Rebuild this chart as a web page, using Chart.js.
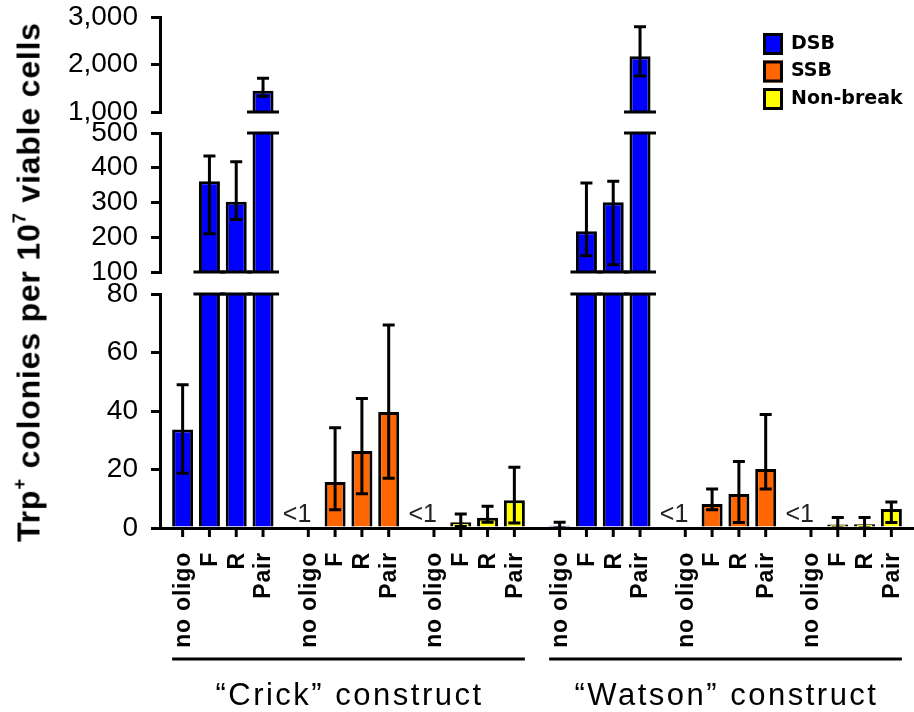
<!DOCTYPE html>
<html>
<head>
<meta charset="utf-8">
<script src="https://cdn.jsdelivr.net/npm/chart.js@4.4.1/dist/chart.umd.min.js"></script>
<style>
  html, body { margin: 0; padding: 0; background: #fff; }
  #figure { position: relative; width: 914px; height: 712px; overflow: hidden; background: #fff; }
  #figure canvas { position: absolute; left: 0; }
  #yTitle {
    position: absolute; left: 29px; top: 282px;
    transform: translate(-50%, -50%) rotate(-90deg);
    white-space: nowrap; color: #000;
    font: bold 32px "Liberation Sans", Arial, sans-serif; letter-spacing: 0.8px;
  }
  #yTitle sup { font-size: 58%; vertical-align: 0.75em; line-height: 0; }
</style>
</head>
<body>
<div id="figure">
  <canvas id="topChart" width="914" height="149" style="top:-10px"></canvas>
  <canvas id="midChart" width="914" height="193" style="top:106px"></canvas>
  <canvas id="lowChart" width="914" height="445" style="top:267px"></canvas>
  <div id="yTitle">Trp<sup>+</sup> colonies per 10<sup>7</sup> viable cells</div>
</div>
<script>
const constructs = ['“Crick” construct', '“Watson” construct'];
const breakTypes = ['DSB', 'SSB', 'Non-break'];
const breakColors = ['#0000ff', '#ff6600', '#ffff00'];
const oligos = ['no oligo', 'F', 'R', 'Pair'];

// bar groups: Crick DSB, SSB, Non-break, then Watson DSB, SSB, Non-break
const groupLabels = ['Crick DSB', 'Crick SSB', 'Crick Non-break', 'Watson DSB', 'Watson SSB', 'Watson Non-break'];
const groupBreak = [0, 1, 2, 0, 1, 2];

// mean values per group, one array per oligo (null = below 1, shown as "<1")
const noOligoMean = [33.7, null, null, 0.8, null, null];
const fMean = [361, 15.7, 2.0, 217, 8.2, 1.2];
const rMean = [302, 26.3, 3.5, 301, 11.6, 1.3];
const pairMean = [1449, 39.7, 9.5, 2173, 20.2, 6.5];

// error bar lengths above / below the mean
const noOligoErrUp = [15.3, null, null, 1.2, null, null];
const noOligoErrDown = [15.0, null, null, 0.8, null, null];
const fErrUp = [73, 18.6, 2.8, 139, 5.1, 2.4];
const fErrDown = [151, 9.5, 1.5, 70, 2.0, 1.2];
const rErrUp = [115, 18.0, 3.9, 60, 11.1, 2.3];
const rErrDown = [51, 14.6, 1.5, 180, 9.7, 1.3];
const pairErrUp = [263, 29.7, 11.3, 621, 18.6, 2.4];
const pairErrDown = [118, 22.7, 7.8, 414, 6.9, 4.6];

// the three pieces of the broken y axis
const topTicks = [1000, 2000, 3000];
const midTicks = [100, 200, 300, 400, 500];
const lowTicks = [0, 20, 40, 60, 80];

const means = [noOligoMean, fMean, rMean, pairMean];
const errUps = [noOligoErrUp, fErrUp, rErrUp, pairErrUp];
const errDowns = [noOligoErrDown, fErrDown, rErrDown, pairErrDown];

function makeDatasets() {
    return oligos.map((name, k) => ({
        label: name,
        data: means[k],
        errUp: errUps[k],
        errDown: errDowns[k],
        backgroundColor: groupBreak.map(b => breakColors[b]),
        borderColor: '#000',
        borderWidth: 3,
        borderSkipped: 'start',
        categoryPercentage: 0.853,
        barPercentage: 0.784
    }));
}

// error bars, clipped to the piece of axis they sit in
const errorBarPlugin = {
    id: 'errorBars',
    afterDatasetsDraw(chart) {
        const { ctx, chartArea: a } = chart;
        const y = chart.scales.y;
        ctx.save();
        ctx.beginPath();
        ctx.rect(a.left, a.top - 1, a.right - a.left, a.bottom - a.top + 2);
        ctx.clip();
        ctx.strokeStyle = '#000';
        ctx.lineWidth = 3;
        chart.data.datasets.forEach((ds, i) => {
            chart.getDatasetMeta(i).data.forEach((bar, j) => {
                const v = ds.data[j];
                if (v == null) return;
                const hi = y.getPixelForValue(v + ds.errUp[j]);
                const lo = y.getPixelForValue(v - ds.errDown[j]);
                ctx.beginPath();
                ctx.moveTo(bar.x, hi); ctx.lineTo(bar.x, lo);
                ctx.moveTo(bar.x - 6, hi); ctx.lineTo(bar.x + 6, hi);
                ctx.moveTo(bar.x - 6, lo); ctx.lineTo(bar.x + 6, lo);
                ctx.stroke();
            });
        });
        ctx.restore();
    }
};

// horizontal marks where a bar runs through an axis break
const breakLinePlugin = {
    id: 'breakLines',
    afterDatasetsDraw(chart) {
        const { ctx, chartArea: a } = chart;
        const y = chart.scales.y;
        ctx.save();
        ctx.strokeStyle = '#000';
        ctx.lineWidth = 3;
        chart.data.datasets.forEach((ds, i) => {
            chart.getDatasetMeta(i).data.forEach((bar, j) => {
                const v = ds.data[j];
                if (v == null) return;
                const x0 = bar.x - bar.width / 2 - 5.5;
                const x1 = bar.x + bar.width / 2 + 5.5;
                ctx.beginPath();
                if (v > y.max) { ctx.moveTo(x0, a.top); ctx.lineTo(x1, a.top); }
                if (y.min > 0 && v > y.min) { ctx.moveTo(x0, a.bottom); ctx.lineTo(x1, a.bottom); }
                ctx.stroke();
            });
        });
        ctx.restore();
    }
};

// per-bar ticks and labels, "<1" notes, construct brackets
const lowAxisPlugin = {
    id: 'lowAxis',
    afterDraw(chart) {
        const { ctx } = chart;
        const base = chart.scales.y.getPixelForValue(0);
        ctx.save();
        ctx.fillStyle = '#000';
        ctx.strokeStyle = '#000';
        ctx.lineWidth = 3;
        chart.data.datasets.forEach((ds, i) => {
            chart.getDatasetMeta(i).data.forEach((bar, j) => {
                ctx.beginPath();
                ctx.moveTo(bar.x, base);
                ctx.lineTo(bar.x, base + 9);
                ctx.stroke();

                ctx.save();
                ctx.translate(bar.x + 1, base + 24);
                ctx.rotate(-Math.PI / 2);
                ctx.font = 'bold 23px "Liberation Sans", Arial, sans-serif';
                ctx.letterSpacing = '0.8px';
                ctx.textAlign = 'right';
                ctx.textBaseline = 'middle';
                ctx.fillText(ds.label, 0, 0);
                ctx.restore();

                if (ds.data[j] == null) {
                    ctx.save();
                    ctx.font = '25px "Liberation Sans", Arial, sans-serif';
                    ctx.fillStyle = '#222';
                    ctx.textAlign = 'right';
                    ctx.textBaseline = 'alphabetic';
                    ctx.fillText('<1', bar.x + 3, base - 6);
                    ctx.restore();
                }
            });
        });

        const perConstruct = breakTypes.length;
        constructs.forEach((name, c) => {
            const first = chart.getDatasetMeta(0).data[c * perConstruct];
            const last = chart.getDatasetMeta(oligos.length - 1).data[c * perConstruct + perConstruct - 1];
            const x0 = first.x - first.width / 2;
            const x1 = last.x + last.width / 2;
            ctx.beginPath();
            ctx.moveTo(x0, base + 131);
            ctx.lineTo(x1, base + 131);
            ctx.stroke();
            ctx.save();
            ctx.font = '31px "Liberation Sans", Arial, sans-serif';
            ctx.letterSpacing = '2.5px';
            ctx.textAlign = 'center';
            ctx.textBaseline = 'alphabetic';
            ctx.fillText(name, (x0 + x1) / 2 + 1, base + 177);
            ctx.restore();
        });
        ctx.restore();
    }
};

// break-type legend in the upper right
const legendPlugin = {
    id: 'breakLegend',
    afterDraw(chart) {
        const { ctx, chartArea: a } = chart;
        ctx.save();
        breakTypes.forEach((name, k) => {
            const bx = a.right - 151;
            const by = a.top + 16 + k * 27.5;
            ctx.fillStyle = breakColors[k];
            ctx.fillRect(bx, by, 20, 22);
            ctx.strokeStyle = '#000';
            ctx.lineWidth = 3;
            ctx.strokeRect(bx + 1.5, by + 1.5, 17, 19);
            ctx.fillStyle = '#000';
            ctx.font = 'bold 19px "DejaVu Sans", sans-serif';
            ctx.textAlign = 'left';
            ctx.textBaseline = 'middle';
            ctx.fillText(name, bx + 28, by + 11);
        });
        ctx.restore();
    }
};

function makeChart(id, ticks, padTop, padBottom, isLow, extraPlugins) {
    const ctx = document.getElementById(id).getContext('2d');
    return new Chart(ctx, {
        type: 'bar',
        data: {
            labels: groupLabels,
            datasets: makeDatasets()
        },
        options: {
            responsive: false,
            animation: false,
            layout: { padding: { top: padTop, bottom: padBottom, left: 0, right: 0 } },
            plugins: {
                legend: { display: false },
                tooltip: { enabled: false }
            },
            scales: {
                x: {
                    display: isLow,
                    offset: true,
                    grid: { drawOnChartArea: false, drawTicks: false },
                    ticks: { display: false },
                    border: { color: '#000', width: 3 }
                },
                y: {
                    min: ticks[0],
                    max: ticks[ticks.length - 1],
                    afterFit(scale) { scale.width = 160; },
                    border: { color: '#000', width: 3 },
                    grid: { drawOnChartArea: false, color: '#000', lineWidth: 3, tickLength: 9 },
                    ticks: {
                        stepSize: ticks[1] - ticks[0],
                        autoSkip: false,
                        color: '#000',
                        padding: 13,
                        font: { family: '"Liberation Sans", Arial, sans-serif', size: 28, lineHeight: 1 },
                        callback: v => v.toLocaleString('en-US')
                    }
                }
            }
        },
        plugins: [breakLinePlugin, errorBarPlugin].concat(extraPlugins)
    });
}

makeChart('topChart', topTicks, 26, 26, false, [legendPlugin]);
makeChart('midChart', midTicks, 26, 26, false, []);
makeChart('lowChart', lowTicks, 26, 184, true, [lowAxisPlugin]);
</script>
</body>
</html>
